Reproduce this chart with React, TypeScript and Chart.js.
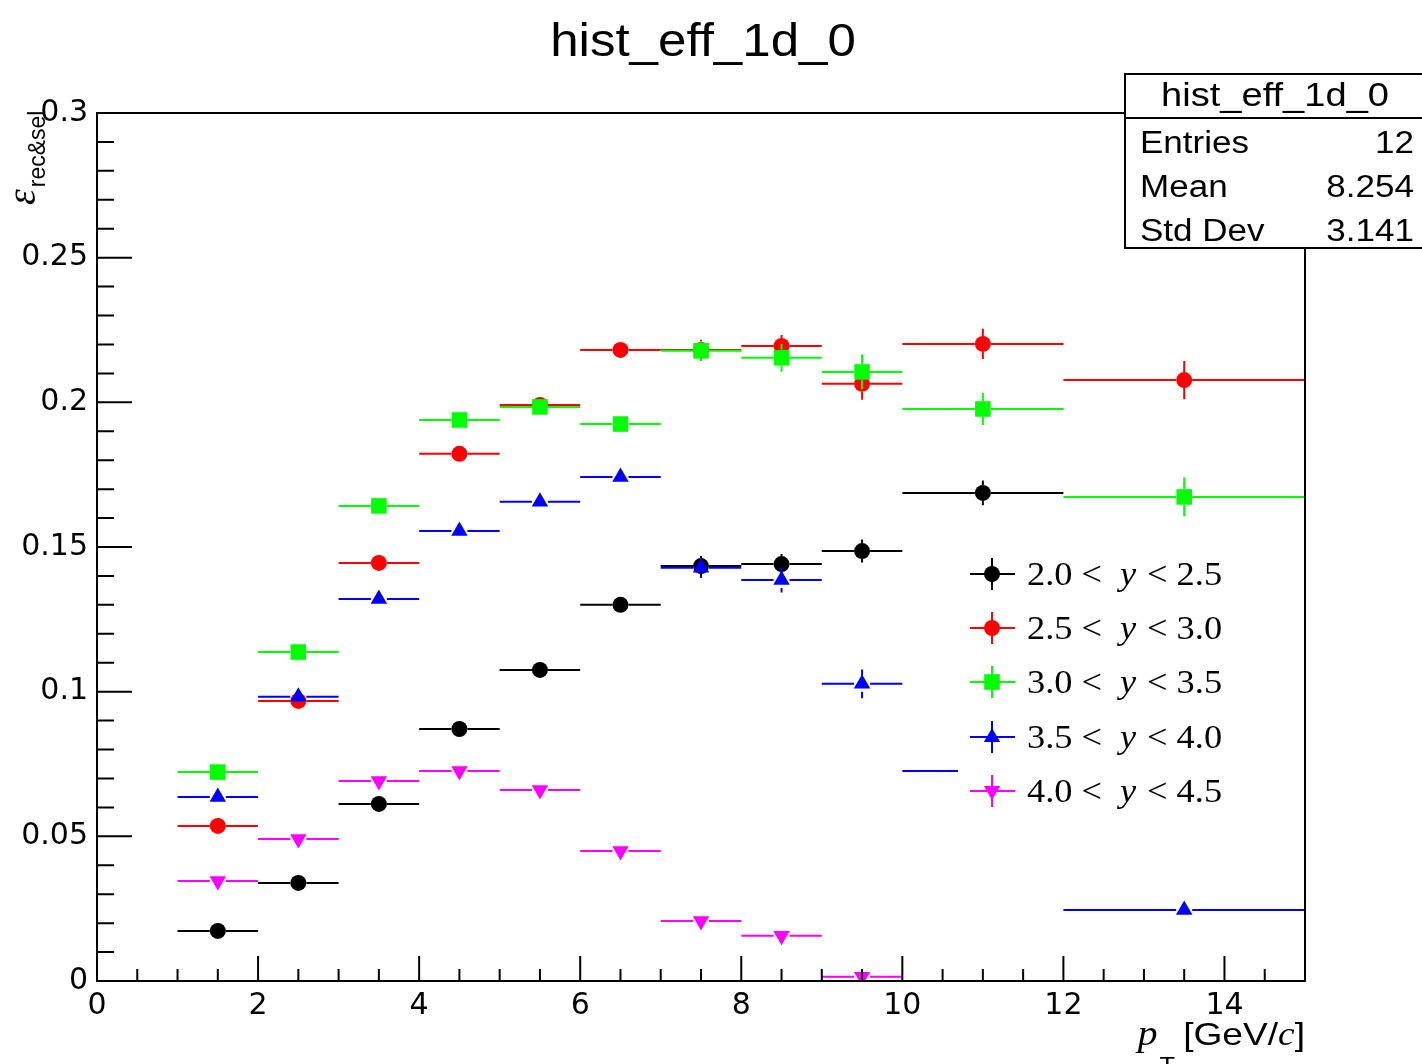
import React, { useEffect, useRef } from "react";
import { Chart, registerables } from "chart.js";

Chart.register(...registerables);

// ---- data ----
const binLow = [1, 2, 3, 4, 5, 6, 7, 8, 9, 10, 12];
const binHigh = [2, 3, 4, 5, 6, 7, 8, 9, 10, 12, 15];

const seriesLabels = ["2.0 <", "2.5 <", "3.0 <", "3.5 <", "4.0 <"];
const seriesUpper = ["< 2.5", "< 3.0", "< 3.5", "< 4.0", "< 4.5"];
const seriesColors = ["#000000", "#ff0000", "#00ff00", "#0000ff", "#ff00ff"];

const black = [0.0173, 0.0339, 0.0612, 0.0871, 0.1075, 0.13, 0.1434, 0.1441, 0.1486, 0.1687, null];
const blackErr = [0.001, 0.0015, 0.002, 0.002, 0.0022, 0.0025, 0.0035, 0.0035, 0.004, 0.0043, null];
const red = [0.0536, 0.0968, 0.1445, 0.1822, 0.1991, 0.2181, 0.2181, 0.2195, 0.2064, 0.2202, 0.2077];
const redErr = [0.0015, 0.002, 0.0022, 0.0025, 0.0025, 0.0025, 0.0035, 0.0038, 0.0055, 0.0052, 0.0066];
const green = [0.0722, 0.1137, 0.1642, 0.1939, 0.1984, 0.1925, 0.2178, 0.2154, 0.2105, 0.1977, 0.1673];
const greenErr = [0.0015, 0.002, 0.0022, 0.0025, 0.0025, 0.0025, 0.0035, 0.0048, 0.006, 0.0055, 0.0067];
const blue = [0.0636, 0.0982, 0.132, 0.1555, 0.1656, 0.1742, 0.1428, 0.1386, 0.1027, 0.0726, 0.0245];
const blueErr = [0.0015, 0.002, 0.0022, 0.0025, 0.0025, 0.0025, 0.0035, 0.0043, 0.005, 0.005, 0.003];
const magenta = [0.0346, 0.0491, 0.0691, 0.0726, 0.066, 0.0449, 0.0207, 0.0156, 0.0015, null, null];
const magentaErr = [0.001, 0.0012, 0.0015, 0.0015, 0.0015, 0.0015, 0.0012, 0.0012, 0.001, null, null];

const seriesValues = [black, red, green, blue, magenta];
const seriesErrors = [blackErr, redErr, greenErr, blueErr, magentaErr];
const seriesMarkers = ["circle", "circle", "rect", "triangle", "triangleDown"];

const statsTitle = "hist_eff_1d_0";
const statsRows = [
  ["Entries", "12"],
  ["Mean", "8.254"],
  ["Std Dev", "3.141"],
];
const chartTitle = "hist_eff_1d_0";

const SX = 1.16;
const SANS = "'Liberation Sans', Arial, sans-serif";
const SERIF = "'Liberation Serif', 'Times New Roman', serif";

function stretchText(ctx: CanvasRenderingContext2D, text: string, x: number, y: number, font: string, align: "left" | "right" | "center", sx = SX) {
  ctx.save();
  ctx.font = font;
  ctx.textBaseline = "alphabetic";
  ctx.textAlign = "left";
  const w = ctx.measureText(text).width * sx;
  let x0 = x;
  if (align === "right") x0 = x - w;
  if (align === "center") x0 = x - w / 2;
  ctx.translate(x0, y);
  ctx.scale(sx, 1);
  ctx.fillText(text, 0, 0);
  ctx.restore();
  return w;
}

function markerProps(m: string) {
  if (m === "circle") return { pointStyle: "circle", radius: 8, rotation: 0 };
  if (m === "rect") return { pointStyle: "rect", radius: 11, rotation: 0 };
  if (m === "triangle") return { pointStyle: "triangle", radius: 9.5, rotation: 0 };
  return { pointStyle: "triangle", radius: 9.5, rotation: 180 };
}

function drawMarker(ctx: CanvasRenderingContext2D, m: string, x: number, y: number, color: string) {
  ctx.save();
  ctx.fillStyle = color;
  ctx.beginPath();
  if (m === "circle") ctx.arc(x, y, 8, 0, Math.PI * 2);
  else if (m === "rect") ctx.rect(x - 7.8, y - 7.8, 15.6, 15.6);
  else if (m === "triangle") {
    ctx.moveTo(x, y - 9);
    ctx.lineTo(x + 8.2, y + 5);
    ctx.lineTo(x - 8.2, y + 5);
  } else {
    ctx.moveTo(x, y + 9);
    ctx.lineTo(x + 8.2, y - 5);
    ctx.lineTo(x - 8.2, y - 5);
  }
  ctx.closePath();
  ctx.fill();
  ctx.restore();
}

const binPlugin = {
  id: "binErrors",
  beforeDatasetDraw(chart: any, args: any) {
    const i = args.index;
    const ctx = chart.ctx as CanvasRenderingContext2D;
    const xs = chart.scales.x;
    const ys = chart.scales.y;
    const vals = seriesValues[i];
    const errs = seriesErrors[i];
    const gap = 8;
    ctx.save();
    ctx.strokeStyle = seriesColors[i];
    ctx.lineWidth = 2;
    for (let k = 0; k < binLow.length; k++) {
      const v = vals[k];
      if (v === null) continue;
      const e = errs[k] || 0;
      const xl = xs.getPixelForValue(binLow[k]);
      const xh = xs.getPixelForValue(binHigh[k]);
      const xc = xs.getPixelForValue((binLow[k] + binHigh[k]) / 2);
      const yc = ys.getPixelForValue(v);
      const yt = ys.getPixelForValue(v + e);
      const yb = ys.getPixelForValue(v - e);
      ctx.beginPath();
      ctx.moveTo(xl, yc);
      ctx.lineTo(xc - gap, yc);
      ctx.moveTo(xc + gap, yc);
      ctx.lineTo(xh, yc);
      if (yc - yt > gap + 1) {
        ctx.moveTo(xc, yt);
        ctx.lineTo(xc, yc - gap);
        ctx.moveTo(xc, yc + gap);
        ctx.lineTo(xc, yb);
      }
      ctx.stroke();
    }
    ctx.restore();
  },
};

const decorPlugin = {
  id: "decor",
  afterDraw(chart: any) {
    const ctx = chart.ctx as CanvasRenderingContext2D;
    const a = chart.chartArea;
    const xs = chart.scales.x;
    const ys = chart.scales.y;
    ctx.save();
    // frame
    ctx.strokeStyle = "#000";
    ctx.lineWidth = 2;
    ctx.strokeRect(a.left, a.top, a.right - a.left, a.bottom - a.top);
    // x ticks
    ctx.beginPath();
    for (let v = xs.min; v <= xs.max + 1e-9; v += 0.5) {
      const p = xs.getPixelForValue(v);
      const major = Math.abs(v / 2 - Math.round(v / 2)) < 1e-6;
      ctx.moveTo(p, a.bottom);
      ctx.lineTo(p, a.bottom - (major ? 25 : 12));
    }
    // y ticks
    for (let k = 0; k <= 30; k++) {
      const v = ys.min + k * 0.01;
      const p = ys.getPixelForValue(v);
      const major = k % 5 === 0;
      ctx.moveTo(a.left, p);
      ctx.lineTo(a.left + (major ? 35 : 17), p);
    }
    ctx.stroke();

    // legend
    ctx.fillStyle = "#fff";
    ctx.fillRect(958, 545, 277, 272);
    const legY = [574, 628, 682, 737, 791];
    for (let i = 0; i < seriesLabels.length; i++) {
      const y = legY[i];
      ctx.strokeStyle = seriesColors[i];
      ctx.lineWidth = 2;
      ctx.beginPath();
      ctx.moveTo(970, y);
      ctx.lineTo(1015, y);
      ctx.moveTo(992, y - 16);
      ctx.lineTo(992, y + 16);
      ctx.stroke();
      drawMarker(ctx, seriesMarkers[i], 992, y, seriesColors[i]);
      ctx.fillStyle = "#000";
      stretchText(ctx, seriesLabels[i], 1027, y + 11, `34px ${SERIF}`, "left", 1.07);
      stretchText(ctx, "y", 1120, y + 11, `italic 34px ${SERIF}`, "left", 1.07);
      stretchText(ctx, seriesUpper[i], 1147, y + 11, `34px ${SERIF}`, "left", 1.07);
    }

    // stats box
    ctx.fillStyle = "#fff";
    ctx.fillRect(1125, 74, 300, 174);
    ctx.strokeStyle = "#000";
    ctx.lineWidth = 2;
    ctx.strokeRect(1125, 74, 300, 174);
    ctx.beginPath();
    ctx.moveTo(1125, 118);
    ctx.lineTo(1422, 118);
    ctx.stroke();
    ctx.fillStyle = "#000";
    stretchText(ctx, statsTitle, 1275, 106, `34px ${SANS}`, "center", 1.12);
    const rowY = [153, 197, 241];
    statsRows.forEach((r, k) => {
      stretchText(ctx, r[0], 1140, rowY[k], `31px ${SANS}`, "left", 1.13);
      stretchText(ctx, r[1], 1414, rowY[k], `31px ${SANS}`, "right", 1.13);
    });

    // title
    stretchText(ctx, chartTitle, 703, 56, `46px ${SANS}`, "center", 1.11);

    // x axis title (right aligned at frame right)
    let xr = a.right;
    xr -= stretchText(ctx, "]", xr, 1045, `32px ${SANS}`, "right");
    xr -= stretchText(ctx, "c", xr, 1045, `italic 34px ${SERIF}`, "right", 1.1);
    xr -= stretchText(ctx, "[GeV/", xr, 1045, `32px ${SANS}`, "right");
    xr -= 8;
    xr -= stretchText(ctx, "T", xr, 1072, `22px ${SANS}`, "right");
    stretchText(ctx, "p", xr - 2, 1045, `italic 36px ${SERIF}`, "right", 1.1);

    // y axis title (rotated)
    ctx.save();
    ctx.translate(35, 205);
    ctx.rotate(-Math.PI / 2);
    ctx.font = `italic 40px ${SERIF}`;
    ctx.textBaseline = "alphabetic";
    ctx.textAlign = "left";
    ctx.fillText("ε", 0, 0);
    const ew = ctx.measureText("ε").width;
    ctx.font = `23px ${SANS}`;
    ctx.fillText("rec&sel", ew + 2, 10);
    ctx.restore();

    ctx.restore();
  },
};

export default function App() {
  const ref = useRef<HTMLCanvasElement | null>(null);
  useEffect(() => {
    document.body.style.margin = "0";
    const canvas = ref.current!;
    const datasets = seriesValues.map((vals, i) => {
      const mp = markerProps(seriesMarkers[i]);
      const pts: { x: number; y: number }[] = [];
      vals.forEach((v, k) => {
        if (v !== null) pts.push({ x: (binLow[k] + binHigh[k]) / 2, y: v });
      });
      return {
        label: seriesLabels[i],
        data: pts,
        showLine: false,
        order: seriesValues.length - i,
        pointStyle: mp.pointStyle,
        pointRadius: mp.radius,
        pointRotation: mp.rotation,
        pointBackgroundColor: seriesColors[i],
        pointBorderColor: seriesColors[i],
        pointBorderWidth: 0,
        pointHoverRadius: mp.radius,
      };
    });
    const chart = new Chart(canvas, {
      type: "scatter",
      data: { datasets: datasets as any },
      options: {
        animation: false,
        responsive: false,
        devicePixelRatio: 1,
        layout: { padding: { left: 0, right: 117, top: 113, bottom: 0 } },
        plugins: { legend: { display: false }, tooltip: { enabled: false }, title: { display: false } },
        scales: {
          x: {
            type: "linear",
            min: 0,
            max: 15,
            grid: { display: false, drawTicks: false },
            border: { display: false },
            ticks: {
              stepSize: 2,
              includeBounds: false,
              padding: 7,
              color: "#000",
              font: { family: "'DejaVu Sans'", size: 30 },
              maxRotation: 0,
            },
            afterFit: (s: any) => {
              s.height = 83;
            },
          },
          y: {
            type: "linear",
            min: 0,
            max: 0.3,
            grid: { display: false, drawTicks: false },
            border: { display: false },
            ticks: {
              stepSize: 0.05,
              includeBounds: false,
              padding: 9,
              color: "#000",
              font: { family: "'DejaVu Sans'", size: 30 },
              callback: (v: any) => String(Number(Number(v).toFixed(2))),
            },
            afterFit: (s: any) => {
              s.width = 97;
            },
          },
        },
      },
      plugins: [binPlugin, decorPlugin],
    });
    return () => chart.destroy();
  }, []);
  return (
    <div style={{ width: 1422, height: 1064, background: "#fff" }}>
      <canvas ref={ref} width={1422} height={1064} style={{ display: "block" }} />
    </div>
  );
}
